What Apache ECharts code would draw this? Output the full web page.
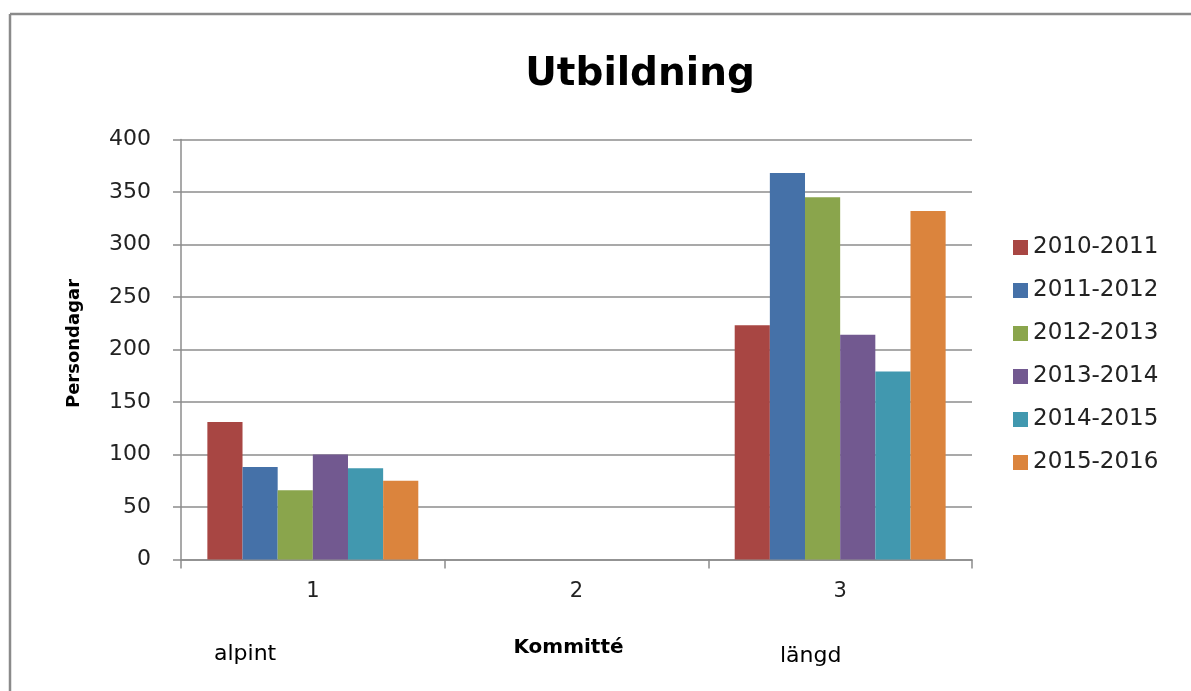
<!DOCTYPE html>
<html>
<head>
<meta charset="utf-8">
<script src="https://cdn.jsdelivr.net/npm/echarts@6/dist/echarts.min.js"></script>
<style>
  html, body { margin: 0; padding: 0; background: #fff; }
  #main { width: 1191px; height: 691px; }
</style>
</head>
<body>
<div id="main"></div>
<script>
// Data
const categories = ['1', '2', '3'];
const seasons = ['2010-2011', '2011-2012', '2012-2013', '2013-2014', '2014-2015', '2015-2016'];
const s2010 = [131, 0, 223];
const s2011 = [88, 0, 368];
const s2012 = [66, 0, 345];
const s2013 = [100, 0, 214];
const s2014 = [87, 0, 179];
const s2015 = [75, 0, 332];
const yTicks = [0, 50, 100, 150, 200, 250, 300, 350, 400];

const seriesValues = [s2010, s2011, s2012, s2013, s2014, s2015];
const colors = ['#A84643', '#4571A8', '#8AA54C', '#725990', '#4198AF', '#DB843D'];
const font = '"DejaVu Sans", sans-serif';

var chartDom = document.getElementById('main');
var myChart = echarts.init(chartDom);

const option = {
    animation: false,
    color: colors,
    title: {
        text: 'Utbildning',
        left: 635,
        top: 50,
        textAlign: 'center',
        textStyle: { fontFamily: font, fontSize: 39, fontWeight: 'bold', color: '#000' }
    },
    legend: {
        orient: 'vertical',
        left: 1008,
        top: 231,
        itemWidth: 15,
        itemHeight: 15,
        itemGap: 20,
        icon: 'rect',
        textStyle: { fontFamily: font, fontSize: 23, color: '#222' },
        data: seasons
    },
    grid: { left: 181, right: 219, top: 139.5, bottom: 131.5 },
    xAxis: {
        type: 'category',
        data: categories,
        name: 'Kommitté',
        nameLocation: 'middle',
        nameGap: 78,
        nameTextStyle: { fontFamily: font, fontSize: 20, fontWeight: 'bold', color: '#000', padding: [0, 16, 0, 0] },
        axisLine: { lineStyle: { color: '#8c8c8c', width: 1.5 } },
        axisTick: { show: true, length: 9, lineStyle: { color: '#8c8c8c', width: 1.5 } },
        axisLabel: { fontFamily: font, fontSize: 21, color: '#222', margin: 22 }
    },
    yAxis: {
        type: 'value',
        min: 0,
        max: 400,
        interval: 50,
        name: 'Persondagar',
        nameLocation: 'middle',
        nameGap: 98,
        nameTextStyle: { fontFamily: font, fontSize: 18, fontWeight: 'bold', color: '#000', padding: [0, 0, 0, 12] },
        axisLine: { show: true, lineStyle: { color: '#8c8c8c', width: 1.5 } },
        axisTick: { show: true, length: 8, lineStyle: { color: '#8c8c8c', width: 1.5 } },
        axisLabel: {
            fontFamily: font, fontSize: 22, color: '#222', margin: 30,
            formatter: function (v) { return yTicks.indexOf(v) >= 0 ? String(v) : ''; }
        },
        splitLine: { lineStyle: { color: '#8c8c8c', width: 1.5 } }
    },
    series: seasons.map(function (name, i) {
        return {
            name: name,
            type: 'bar',
            data: seriesValues[i],
            barGap: '0%',
            barCategoryGap: '20%',
            itemStyle: { color: colors[i] }
        };
    }),
    graphic: [
        // chart frame: only top and left edges are visible
        {
            type: 'line', silent: true,
            shape: { x1: 10, y1: 14, x2: 1191, y2: 14 },
            style: { stroke: '#8a8a8a', lineWidth: 2.5 }
        },
        {
            type: 'line', silent: true,
            shape: { x1: 10, y1: 14, x2: 10, y2: 691 },
            style: { stroke: '#8a8a8a', lineWidth: 2.5 }
        },
        {
            type: 'text', left: 214, top: 643,
            style: { text: 'alpint', font: '22px "DejaVu Sans", sans-serif', fill: '#000' }
        },
        {
            type: 'text', left: 780, top: 645,
            style: { text: 'längd', font: '22px "DejaVu Sans", sans-serif', fill: '#000' }
        }
    ]
};

option && myChart.setOption(option);
</script>
</body>
</html>
